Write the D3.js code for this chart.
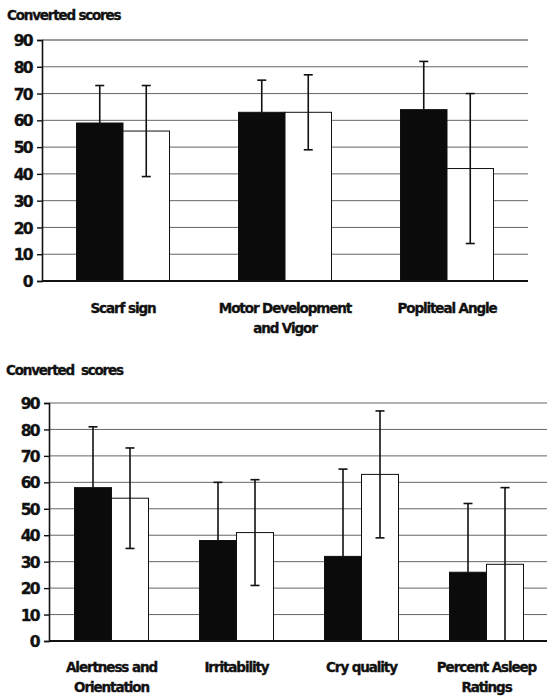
<!DOCTYPE html>
<html>
<head>
<meta charset="utf-8">
<script src="https://cdn.jsdelivr.net/npm/d3@7"></script>
<style>
  body { margin: 0; background: #fff; }
  text { font-family: "DejaVu Sans", Verdana, sans-serif; font-weight: bold; fill: #111; stroke: #111; stroke-width: 0.35px; }
  .tick text { font-size: 15.5px; letter-spacing: -1.6px; }
  .title { font-size: 13.5px; letter-spacing: -1.2px; white-space: pre; }
  .xlab { font-size: 13.5px; letter-spacing: -1.1px; }
</style>
</head>
<body>
<svg id="chart" width="547" height="696"></svg>
<script>
// ---- data ----
const yTicks = [0, 10, 20, 30, 40, 50, 60, 70, 80, 90];

// top panel
const topCategories = [["Scarf sign"], ["Motor Development", "and Vigor"], ["Popliteal Angle"]];
const topBlackMeans = [59, 63, 64];
const topBlackSD = [14, 12, 18];
const topWhiteMeans = [56, 63, 42];
const topWhiteSD = [17, 14, 28];

// bottom panel
const bottomCategories = [["Alertness and", "Orientation"], ["Irritability"], ["Cry quality"], ["Percent Asleep", "Ratings"]];
const bottomBlackMeans = [58, 38, 32, 26];
const bottomBlackSD = [23, 22, 33, 26];
const bottomWhiteMeans = [54, 41, 63, 29];
const bottomWhiteSD = [19, 20, 24, 29];

const svg = d3.select("#chart");

function BarPanel(cfg) {
  const g = svg.append("g");

  /* scales */
  const yScale = d3.scaleLinear().domain([0, 90]).range([cfg.y0, cfg.y90]);
  const xScale = d3.scaleBand()
    .domain(d3.range(cfg.categories.length))
    .range([cfg.left, cfg.right]);
  const xSub = d3.scaleBand()
    .domain(["black", "white"])
    .range([-cfg.pairWidth / 2, cfg.pairWidth / 2]);

  /* title */
  g.append("text")
    .attr("class", "title")
    .attr("x", cfg.titleX)
    .attr("y", cfg.titleY)
    .text(cfg.title);

  /* gridlines */
  g.append("g")
    .selectAll("line")
    .data(yTicks.slice(1))
    .join("line")
      .attr("x1", cfg.left)
      .attr("x2", cfg.gridRight)
      .attr("y1", d => yScale(d))
      .attr("y2", d => yScale(d))
      .attr("stroke", d => (d === 90 ? cfg.topLineColor : "#555"))
      .attr("stroke-width", d => (d === 90 ? cfg.topLineWidth : 0.9));

  /* one entry per bar */
  const bars = [];
  cfg.categories.forEach((c, i) => {
    bars.push({i, key: "black", v: cfg.blackMeans[i], sd: cfg.blackSD[i]});
    bars.push({i, key: "white", v: cfg.whiteMeans[i], sd: cfg.whiteSD[i]});
  });

  const cx = d => xScale(d.i) + xScale.bandwidth() / 2 + xSub(d.key);

  g.append("g")
    .selectAll("rect")
    .data(bars)
    .join("rect")
      .attr("x", d => cx(d))
      .attr("y", d => yScale(d.v))
      .attr("width", xSub.bandwidth())
      .attr("height", d => yScale(0) - yScale(d.v))
      .attr("fill", d => (d.key === "black" ? "#0b0b0b" : "#fff"))
      .attr("stroke", "#111")
      .attr("stroke-width", 1);

  /* error bars (lower half hidden inside black bars) */
  const cap = 4.5;
  const err = g.append("g")
    .selectAll("g")
    .data(bars)
    .join("g")
      .attr("stroke", "#111")
      .attr("stroke-width", 1.6);
  const mid = d => cx(d) + xSub.bandwidth() / 2;
  const lo = d => (d.key === "black" ? d.v : Math.max(0, d.v - d.sd));
  err.append("line")
    .attr("x1", mid).attr("x2", mid)
    .attr("y1", d => yScale(d.v + d.sd))
    .attr("y2", d => yScale(lo(d)));
  err.append("line")
    .attr("x1", d => mid(d) - cap).attr("x2", d => mid(d) + cap)
    .attr("y1", d => yScale(d.v + d.sd))
    .attr("y2", d => yScale(d.v + d.sd));
  err.filter(d => d.key === "white" && lo(d) > 0).append("line")
    .attr("x1", d => mid(d) - cap).attr("x2", d => mid(d) + cap)
    .attr("y1", d => yScale(lo(d)))
    .attr("y2", d => yScale(lo(d)));

  /* y axis */
  const yAxis = d3.axisLeft(yScale)
    .tickValues(yTicks)
    .tickSize(5)
    .tickPadding(5);
  const yG = g.append("g")
    .attr("transform", `translate(${cfg.left},0)`)
    .call(yAxis);
  yG.attr("font-family", null).attr("font-size", null);
  yG.select(".domain").attr("stroke", "#111").attr("stroke-width", 1.6);
  yG.selectAll(".tick line").attr("stroke", "#111").attr("stroke-width", 1.4);
  yG.selectAll(".tick text").attr("fill", "#111").attr("dy", "0.36em");

  /* x baseline */
  g.append("line")
    .attr("x1", cfg.left).attr("x2", cfg.gridRight)
    .attr("y1", yScale(0)).attr("y2", yScale(0))
    .attr("stroke", "#111").attr("stroke-width", 1.8);

  /* category labels */
  const lab = g.append("g")
    .selectAll("text")
    .data(cfg.categories)
    .join("text")
      .attr("class", "xlab")
      .attr("text-anchor", "middle")
      .attr("x", (d, i) => xScale(i) + xScale.bandwidth() / 2)
      .attr("y", cfg.labelY);
  lab.selectAll("tspan")
    .data(d => d)
    .join("tspan")
      .attr("x", function () { return d3.select(this.parentNode).attr("x"); })
      .attr("dy", (d, j) => (j === 0 ? 0 : 20))
      .text(d => d);
}

BarPanel({
  title: "Converted scores", titleX: 7, titleY: 20,
  categories: topCategories,
  blackMeans: topBlackMeans, blackSD: topBlackSD,
  whiteMeans: topWhiteMeans, whiteSD: topWhiteSD,
  left: 42, right: 528, gridRight: 528,
  y0: 281, y90: 40, pairWidth: 93,
  topLineColor: "#9a9a9a", topLineWidth: 2,
  labelY: 313
});

BarPanel({
  title: "Converted  scores", titleX: 6, titleY: 375,
  categories: bottomCategories,
  blackMeans: bottomBlackMeans, blackSD: bottomBlackSD,
  whiteMeans: bottomWhiteMeans, whiteSD: bottomWhiteSD,
  left: 49, right: 549, gridRight: 547,
  y0: 641, y90: 403, pairWidth: 74,
  topLineColor: "#555", topLineWidth: 0.9,
  labelY: 672
});
</script>
</body>
</html>
